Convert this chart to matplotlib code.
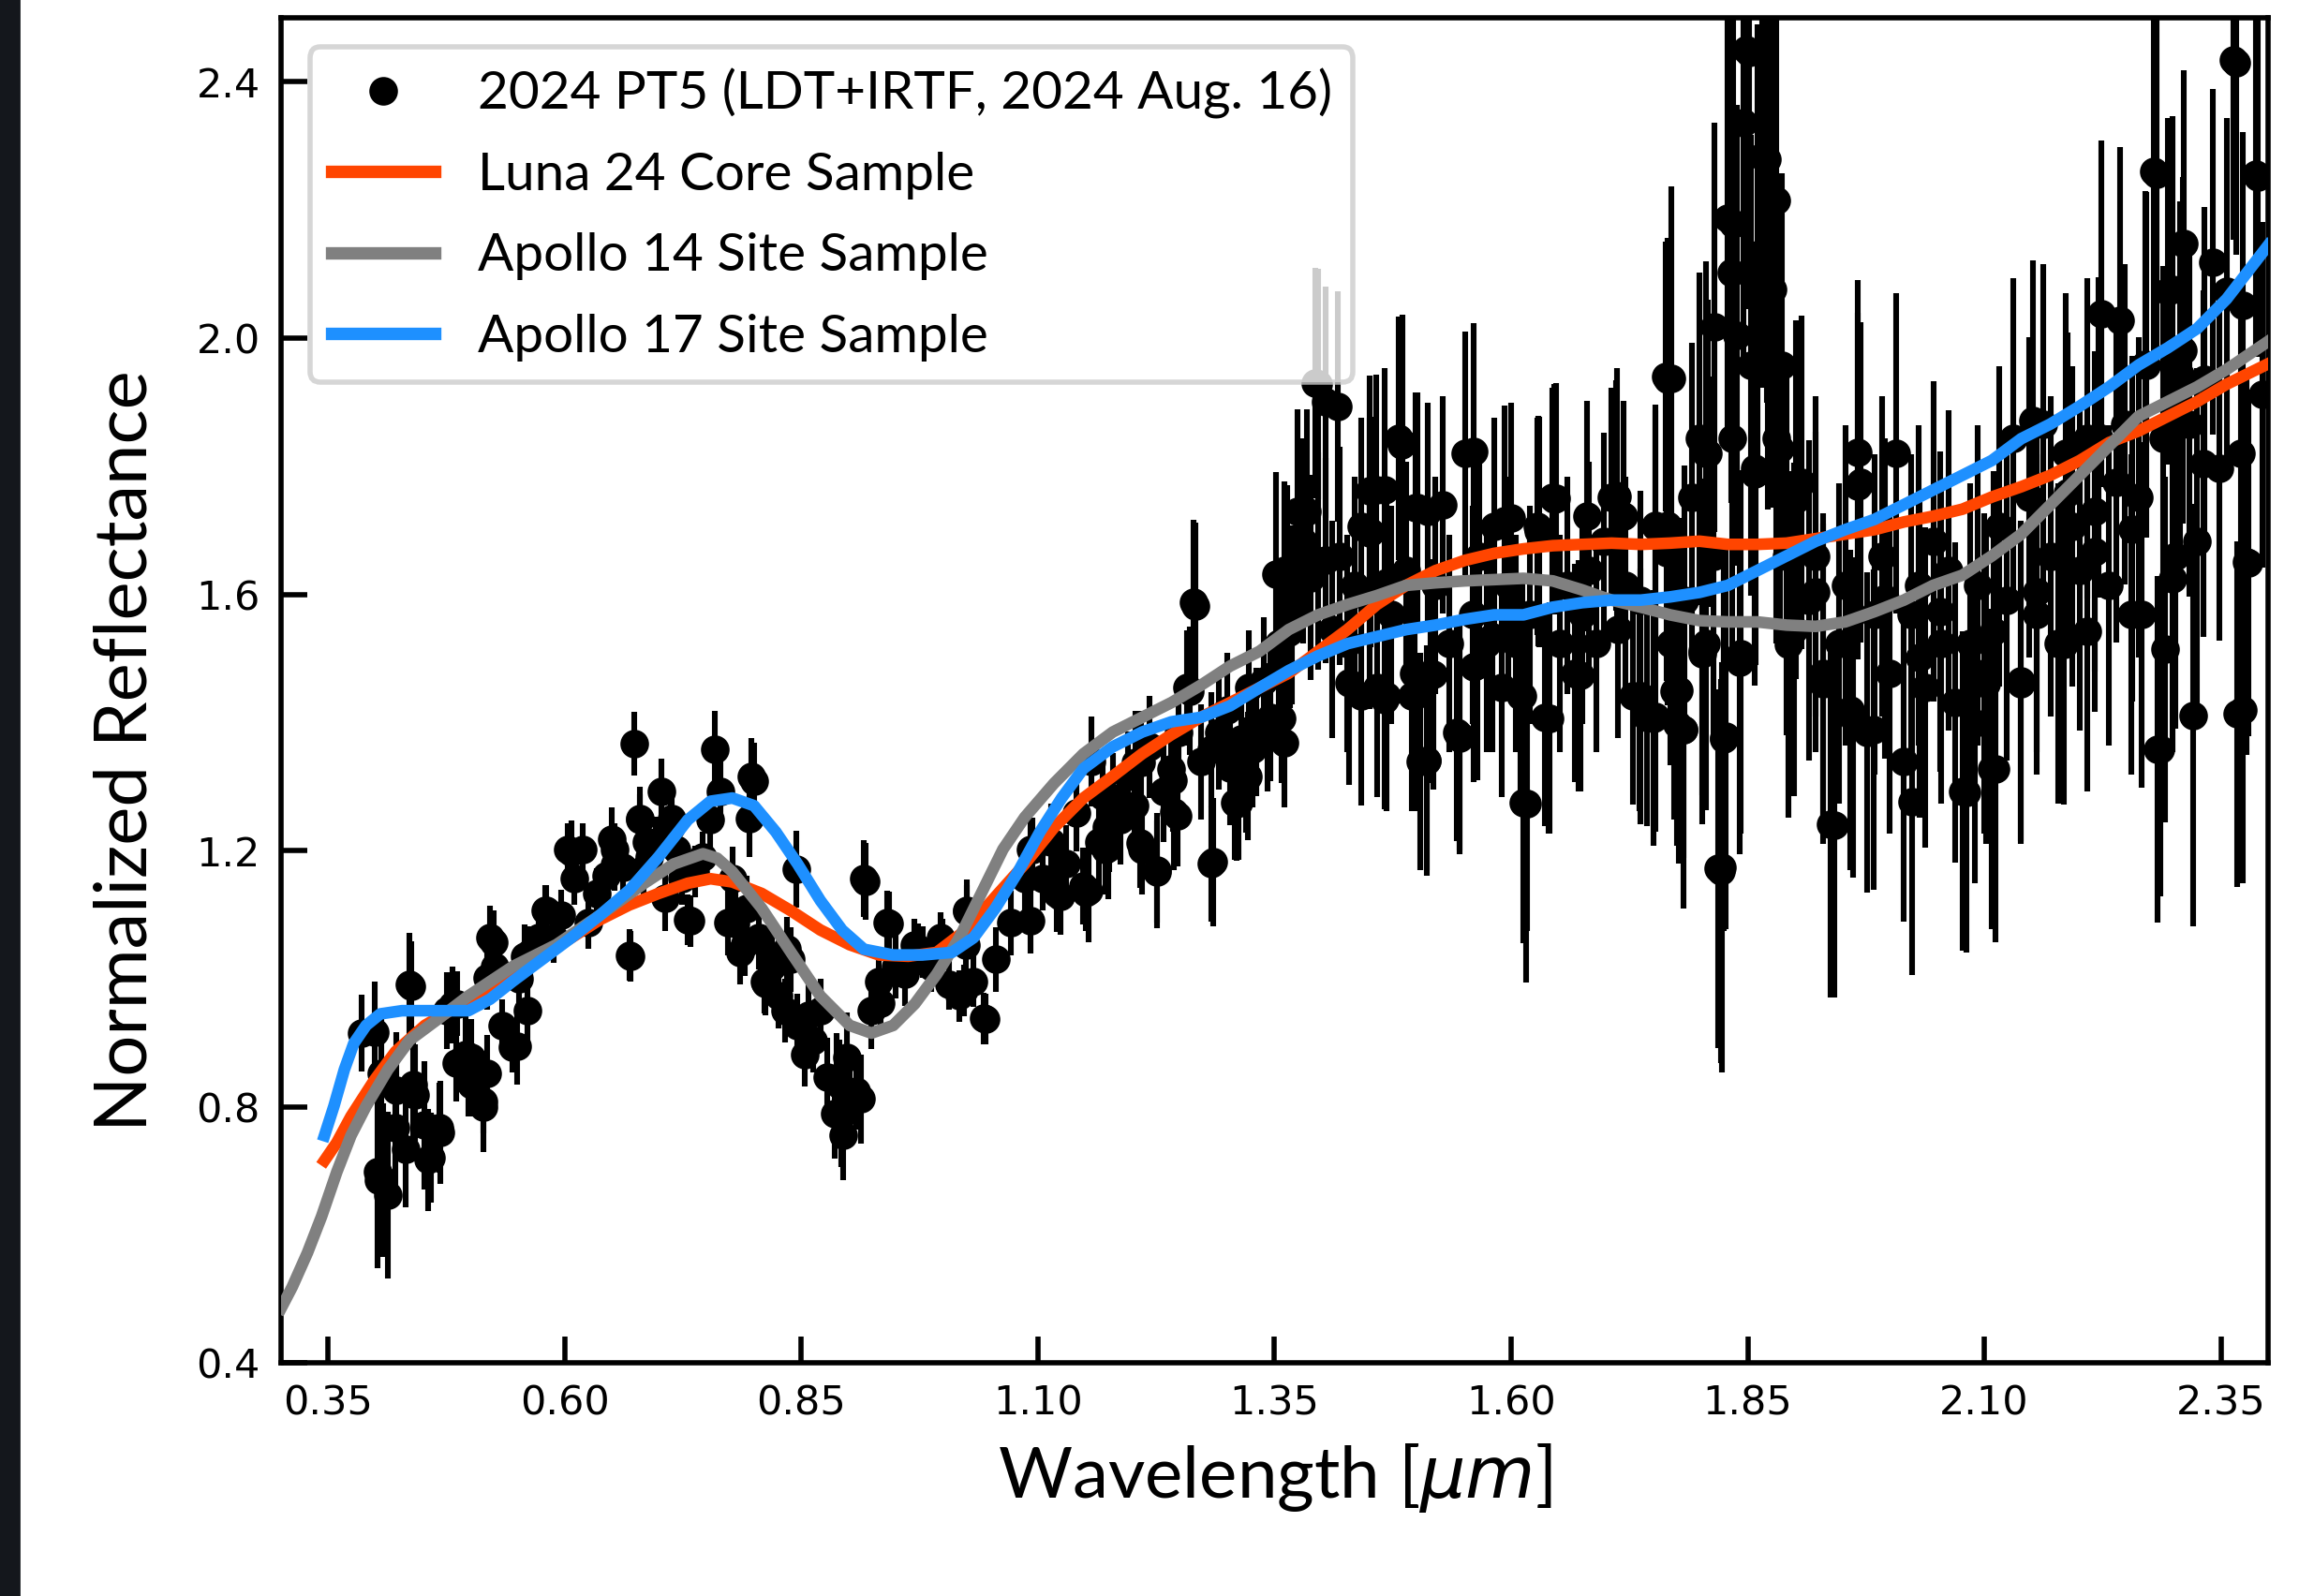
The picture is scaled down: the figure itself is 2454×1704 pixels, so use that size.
import numpy as np
import matplotlib.pyplot as plt
from matplotlib.patches import Rectangle

# visible spectrum (LDT)
wl_vis = [0.385, 0.402, 0.408, 0.421, 0.436, 0.440, 0.452, 0.459, 0.467, 0.475,
          0.486, 0.495, 0.501, 0.514, 0.521, 0.526, 0.534, 0.545, 0.552, 0.563,
          0.572, 0.579, 0.588, 0.596, 0.603, 0.610, 0.619, 0.625, 0.634, 0.644,
          0.653, 0.661, 0.668, 0.673, 0.679, 0.689, 0.696, 0.702, 0.712, 0.718,
          0.724, 0.730, 0.738, 0.746, 0.754, 0.758, 0.764, 0.772, 0.777, 0.785,
          0.792, 0.797, 0.805, 0.811, 0.819, 0.826, 0.833, 0.839, 0.846, 0.854,
          0.862, 0.870, 0.877, 0.885, 0.890, 0.894, 0.901, 0.908, 0.916, 0.924,
          0.932, 0.941, 0.950, 0.959, 0.969, 0.978, 0.987, 0.997, 1.006, 1.017,
          1.024, 1.032, 1.043,
          0.679, 0.713, 0.686, 0.607, 0.650, 0.683, 0.653, 0.580, 0.525, 0.733,
          0.669, 0.706, 0.518, 0.558, 0.550, 0.560, 0.481, 0.438, 0.399, 0.406,
          0.501, 0.485, 0.514, 0.468, 0.456, 0.432, 0.403, 0.413, 0.518, 0.498,
          0.442, 0.422, 0.800, 0.795, 0.780, 0.790, 0.812, 0.845, 0.918, 0.943,
          0.857, 0.887, 0.892, 0.913, 0.898, 0.934, 0.973, 0.999, 1.025, 1.045,
          1.022, 0.818, 0.835]
refl_vis = [0.915, 0.698, 0.686, 0.767, 0.991, 0.835, 0.771, 0.721, 0.767, 0.950,
            0.961, 0.881, 0.835, 0.808, 1.064, 1.019, 0.927, 0.893, 1.000, 1.041,
            1.064, 1.106, 1.064, 1.099, 1.202, 1.156, 1.202, 1.087, 1.133, 1.161,
            1.202, 1.174, 1.037, 1.367, 1.248, 1.190, 1.213, 1.293, 1.236, 1.202,
            1.156, 1.092, 1.167, 1.190, 1.248, 1.358, 1.293, 1.087, 1.156, 1.041,
            1.110, 1.316, 1.064, 0.996, 1.019, 0.973, 0.950, 1.030, 0.927, 0.881,
            0.904, 0.950, 0.847, 0.789, 0.835, 0.755, 0.812, 0.824, 1.156, 0.950,
            0.996, 1.087, 1.019, 1.007, 1.053, 1.041, 1.019, 1.064, 0.991, 0.973,
            1.053, 0.996, 0.938,
            1.250, 1.250, 1.213, 1.197, 1.217, 1.171, 1.178, 1.106, 1.057, 1.090,
            1.035, 1.125, 1.001, 1.035, 0.894, 0.950, 0.959, 0.988, 0.916, 0.852,
            0.877, 0.868, 0.799, 0.760, 0.717, 0.733, 0.685, 0.662, 0.852, 0.845,
            0.818, 0.826, 1.308, 1.250, 1.086, 1.054, 0.993, 1.171, 1.152, 1.086,
            0.943, 0.845, 0.786, 0.812, 0.877, 0.962, 1.046, 1.054, 1.106, 0.937,
            0.982, 1.027, 1.046]
err_vis = [0.06, 0.15, 0.12, 0.10, 0.08, 0.09, 0.10, 0.07, 0.07, 0.06,
           0.05, 0.06, 0.05, 0.05, 0.05, 0.05, 0.04, 0.04, 0.04, 0.04,
           0.04, 0.04, 0.04, 0.04, 0.04, 0.04, 0.04, 0.04, 0.04, 0.04,
           0.04, 0.04, 0.04, 0.05, 0.04, 0.04, 0.04, 0.05, 0.04, 0.04,
           0.04, 0.04, 0.04, 0.04, 0.05, 0.06, 0.05, 0.05, 0.05, 0.05,
           0.05, 0.06, 0.05, 0.05, 0.05, 0.05, 0.05, 0.05, 0.05, 0.05,
           0.05, 0.05, 0.06, 0.07, 0.07, 0.07, 0.07, 0.06, 0.06, 0.06,
           0.05, 0.05, 0.05, 0.05, 0.04, 0.04, 0.04, 0.04, 0.04, 0.04,
           0.04, 0.04, 0.04,
           0.05, 0.05, 0.04, 0.05, 0.05, 0.05, 0.04, 0.04, 0.05, 0.04,
           0.04, 0.05, 0.05, 0.05, 0.06, 0.05, 0.06, 0.07, 0.08, 0.10,
           0.06, 0.06, 0.07, 0.08, 0.08, 0.09, 0.12, 0.13, 0.06, 0.06,
           0.08, 0.09, 0.06, 0.06, 0.05, 0.05, 0.05, 0.06, 0.06, 0.05,
           0.06, 0.07, 0.08, 0.07, 0.07, 0.05, 0.04, 0.04, 0.04, 0.04,
           0.04, 0.05, 0.05]

# near-infrared spectrum (IRTF)
wl_ir = [1.055, 1.071, 1.086, 1.094, 1.105, 1.114, 1.120, 1.130, 1.141, 1.148,
         1.156, 1.164, 1.172, 1.179, 1.187, 1.195, 1.202, 1.210, 1.218, 1.226,
         1.233, 1.241, 1.249, 1.257, 1.264, 1.272, 1.283, 1.291, 1.300, 1.308,
         1.315, 1.323, 1.331, 1.339, 1.346, 1.354, 1.360, 1.368, 1.374, 1.380,
         1.388, 1.393, 1.404, 1.411, 1.419, 1.427, 1.435, 1.442, 1.450, 1.458,
         1.466, 1.473, 1.481, 1.489, 1.497, 1.504, 1.512, 1.520, 1.528, 1.535,
         1.543, 1.551, 1.559, 1.566, 1.574, 1.582, 1.590, 1.597, 1.605, 1.613,
         1.620, 1.628, 1.636, 1.644, 1.651, 1.659, 1.667, 1.675, 1.682, 1.690,
         1.698, 1.706, 1.713, 1.721, 1.729, 1.737, 1.744, 1.752, 1.763, 1.768,
         1.775, 1.783, 1.791, 1.799, 1.806, 1.814, 1.819, 1.825, 1.829, 1.834,
         1.839, 1.845, 1.848, 1.853, 1.857, 1.860, 1.865, 1.871, 1.876, 1.880,
         1.886, 1.891, 1.899, 1.907, 1.915, 1.922, 1.930, 1.938, 1.946, 1.953,
         1.961, 1.969, 1.976, 1.984, 1.992, 2.000, 2.007, 2.015, 2.023, 2.031,
         2.038, 2.046, 2.054, 2.062, 2.069, 2.077, 2.085, 2.093, 2.100, 2.108,
         2.116, 2.124, 2.131, 2.139, 2.147, 2.155, 2.162, 2.170, 2.178, 2.186,
         2.193, 2.201, 2.209, 2.217, 2.224, 2.232, 2.240, 2.248, 2.255, 2.263,
         2.271, 2.279, 2.283, 2.289, 2.294, 2.302, 2.310, 2.317, 2.325, 2.333,
         2.341, 2.348, 2.356, 2.363, 2.367, 2.371, 2.379, 2.387, 2.394,
         1.266, 1.260, 1.285, 1.226, 1.153, 1.310, 1.351, 1.363, 1.384, 1.396,
         1.417, 1.396, 1.457, 1.451, 1.484, 1.499, 1.511, 1.515, 1.560, 1.546,
         1.564, 1.630, 1.616, 1.647, 1.641, 1.612, 1.712, 1.765, 1.737, 1.750,
         1.671, 1.764, 1.593, 1.495, 1.442, 1.466, 1.343, 1.322, 1.244, 1.203,
         1.174, 1.851, 1.870, 1.880, 1.835, 1.833, 1.876, 1.815, 1.769, 1.806,
         1.884, 1.858, 1.966, 1.966, 1.901, 1.765, 2.243, 2.282, 2.366, 2.389,
         2.311, 2.299, 2.373, 2.270, 2.307, 2.332, 2.377, 2.299, 2.266, 2.291,
         2.321, 2.286, 2.256, 2.221, 2.188, 2.217, 2.184, 2.209, 2.139, 2.155,
         2.151, 2.110, 2.112, 2.081, 2.090, 2.102, 2.053, 2.024, 2.032, 1.983,
         1.995, 1.942, 1.958, 1.930, 1.922, 1.893, 1.823, 1.827, 1.843, 1.782,
         1.777, 1.802, 2.373,
         1.209, 1.312, 1.320, 1.357, 1.360, 1.363, 1.366, 1.248, 1.243, 1.171,
         1.175, 1.208, 1.151, 1.124, 1.092, 1.092, 1.025, 1.168, 1.283, 1.327,
         1.303,
         1.485, 1.450, 1.450, 1.501, 1.646, 1.600, 1.629, 1.711, 1.752, 1.808,
         1.857, 1.404, 1.468, 1.580, 1.560, 1.518, 1.468, 1.498, 1.429, 1.546,
         1.511, 1.610, 1.640, 1.673, 1.617, 1.736, 1.752, 1.772, 1.782, 1.802,
         1.825, 1.822, 1.842, 1.719, 1.680]
refl_ir = [1.030, 1.087, 1.156, 1.202, 1.156, 1.213, 1.133, 1.179, 1.259, 1.145,
           1.339, 1.213, 1.236, 1.282, 1.248, 1.316, 1.270, 1.202, 1.362, 1.167,
           1.293, 1.328, 1.385, 1.454, 1.587, 1.339, 1.179, 1.385, 1.419, 1.275,
           1.374, 1.454, 1.385, 1.465, 1.408, 1.523, 1.637, 1.568, 1.729, 1.683,
           1.626, 1.930, 1.900, 1.545, 1.660, 1.523, 1.614, 1.706, 1.591, 1.454,
           1.763, 1.568, 1.843, 1.637, 1.477, 1.339, 1.729, 1.614, 1.740, 1.523,
           1.385, 1.820, 1.568, 1.660, 1.523, 1.706, 1.454, 1.614, 1.523, 1.275,
           1.568, 1.706, 1.408, 1.752, 1.523, 1.614, 1.477, 1.568, 1.637, 1.523,
           1.683, 1.752, 1.545, 1.614, 1.442, 1.591, 1.408, 1.706, 1.940, 1.523,
           1.397, 1.591, 1.752, 1.843, 1.523, 1.660, 1.172, 1.374, 2.187, 1.843,
           2.004, 2.336, 2.450, 1.958, 1.797, 2.130, 2.283, 2.073, 2.210, 1.843,
           1.958, 1.660, 1.545, 1.775, 1.591, 1.660, 1.477, 1.241, 1.523, 1.614,
           1.408, 1.775, 1.385, 1.568, 1.660, 1.477, 1.820, 1.339, 1.568, 1.614,
           1.454, 1.683, 1.523, 1.637, 1.431, 1.293, 1.523, 1.614, 1.477, 1.328,
           1.706, 1.591, 1.843, 1.465, 1.752, 1.568, 1.866, 1.660, 1.523, 1.820,
           1.706, 1.637, 1.843, 1.729, 2.038, 1.614, 1.775, 1.866, 1.568, 1.752,
           1.958, 2.260, 1.358, 1.843, 2.073, 1.660, 1.981, 1.866, 1.683, 1.935,
           2.119, 1.797, 2.073, 2.434, 1.413, 1.820, 1.649, 2.256, 1.912,
           1.582, 1.449, 1.182, 1.169, 1.137, 1.274, 1.631, 1.539, 1.729, 1.928,
           1.893, 1.652, 1.763, 1.697, 1.833, 1.735, 1.340, 1.476, 1.823, 1.375,
           1.490, 1.697, 1.274, 1.750, 1.407, 1.441, 1.753, 1.936, 1.441, 1.407,
           1.473, 1.665, 1.715, 1.441, 1.441, 1.435, 1.393, 1.316, 1.260, 1.338,
           1.204, 2.446, 2.279, 2.215, 2.178, 2.102, 2.076, 2.017, 1.937, 1.820,
           1.827, 1.789, 1.821, 1.769, 1.748, 1.707, 2.028, 2.256, 2.430, 2.251,
           2.148, 2.076, 2.051, 1.959, 1.943, 1.804, 1.650, 1.624, 1.568, 1.514,
           1.411, 1.358, 1.702, 1.845, 1.759, 1.666, 1.522, 1.543, 1.461, 1.604,
           1.871, 1.543, 1.327, 1.291, 1.399, 1.461, 1.573, 1.276, 1.501, 1.389,
           1.593, 1.240, 1.419, 1.461, 1.604, 1.522, 1.174, 1.378, 1.507, 1.389,
           1.450, 1.511, 1.419,
           1.338, 1.275, 1.318, 1.406, 1.368, 1.631, 1.543, 1.255, 1.310, 1.202,
           1.236, 1.212, 1.134, 1.128, 1.202, 1.090, 1.105, 1.285, 1.358, 1.358,
           1.329,
           1.836, 1.762, 1.696, 1.735, 1.748, 1.719, 1.699, 1.754, 1.708, 1.820,
           1.788, 1.653, 1.618, 1.533, 1.487, 1.475, 1.441, 1.441, 1.462, 1.380,
           1.340, 1.441, 1.406, 1.473, 1.274, 1.441, 1.409, 1.449, 1.389, 1.507,
           1.375, 1.168, 1.494, 1.722, 1.722]
err_ir = [0.05, 0.05, 0.05, 0.05, 0.05, 0.06, 0.06, 0.06, 0.06, 0.06,
          0.07, 0.07, 0.07, 0.07, 0.07, 0.07, 0.07, 0.07, 0.08, 0.08,
          0.08, 0.08, 0.08, 0.09, 0.13, 0.09, 0.09, 0.09, 0.09, 0.09,
          0.09, 0.09, 0.10, 0.10, 0.10, 0.10, 0.14, 0.14, 0.16, 0.16,
          0.16, 0.18, 0.18, 0.17, 0.17, 0.17, 0.17, 0.17, 0.17, 0.17,
          0.19, 0.17, 0.19, 0.17, 0.17, 0.17, 0.17, 0.17, 0.17, 0.17,
          0.17, 0.19, 0.17, 0.17, 0.17, 0.17, 0.17, 0.17, 0.17, 0.22,
          0.17, 0.17, 0.17, 0.17, 0.17, 0.17, 0.17, 0.17, 0.17, 0.17,
          0.17, 0.17, 0.17, 0.17, 0.17, 0.17, 0.17, 0.19, 0.21, 0.19,
          0.19, 0.21, 0.24, 0.26, 0.26, 0.28, 0.28, 0.30, 0.34, 0.34,
          0.36, 0.38, 0.40, 0.36, 0.34, 0.36, 0.36, 0.34, 0.34, 0.32,
          0.30, 0.28, 0.26, 0.26, 0.25, 0.25, 0.25, 0.27, 0.25, 0.25,
          0.25, 0.25, 0.25, 0.25, 0.25, 0.25, 0.25, 0.25, 0.25, 0.25,
          0.25, 0.25, 0.25, 0.25, 0.25, 0.25, 0.25, 0.25, 0.25, 0.25,
          0.25, 0.25, 0.25, 0.25, 0.25, 0.25, 0.25, 0.25, 0.25, 0.25,
          0.25, 0.25, 0.25, 0.25, 0.27, 0.25, 0.25, 0.25, 0.25, 0.25,
          0.27, 0.28, 0.27, 0.27, 0.27, 0.27, 0.27, 0.27, 0.27, 0.27,
          0.27, 0.27, 0.27, 0.28, 0.27, 0.27, 0.27, 0.28, 0.27,
          0.13, 0.10, 0.10, 0.09, 0.08, 0.09, 0.16, 0.16, 0.16, 0.18,
          0.18, 0.17, 0.18, 0.18, 0.20, 0.18, 0.17, 0.17, 0.20, 0.18,
          0.18, 0.18, 0.28, 0.18, 0.18, 0.18, 0.20, 0.22, 0.20, 0.20,
          0.18, 0.20, 0.18, 0.18, 0.17, 0.17, 0.10, 0.10, 0.09, 0.08,
          0.08, 0.40, 0.38, 0.36, 0.36, 0.36, 0.34, 0.32, 0.30, 0.30,
          0.30, 0.30, 0.27, 0.27, 0.28, 0.28, 0.27, 0.28, 0.30, 0.28,
          0.27, 0.27, 0.27, 0.27, 0.27, 0.27, 0.30, 0.27, 0.27, 0.27,
          0.33, 0.23, 0.27, 0.25, 0.25, 0.25, 0.25, 0.25, 0.25, 0.25,
          0.25, 0.25, 0.27, 0.25, 0.25, 0.25, 0.25, 0.27, 0.25, 0.25,
          0.25, 0.27, 0.25, 0.25, 0.25, 0.27, 0.32, 0.30, 0.28, 0.28,
          0.27, 0.27, 0.27,
          0.08, 0.09, 0.09, 0.10, 0.10, 0.14, 0.12, 0.08, 0.08, 0.07,
          0.07, 0.07, 0.06, 0.06, 0.05, 0.05, 0.05, 0.07, 0.09, 0.09,
          0.09,
          0.20, 0.18, 0.18, 0.18, 0.18, 0.18, 0.18, 0.18, 0.18, 0.24,
          0.30, 0.16, 0.16, 0.18, 0.18, 0.18, 0.18, 0.18, 0.16, 0.18,
          0.18, 0.18, 0.18, 0.18, 0.20, 0.18, 0.18, 0.20, 0.20, 0.22,
          0.26, 0.30, 0.30, 0.18, 0.18]

# Apollo 14 site sample
wl_a14 = [0.300, 0.312, 0.328, 0.343, 0.359, 0.374, 0.390, 0.413, 0.436, 0.467,
          0.498, 0.545, 0.591, 0.637, 0.684, 0.715, 0.746, 0.761, 0.777, 0.808,
          0.839, 0.870, 0.901, 0.924, 0.947, 0.970, 0.993, 1.017, 1.040, 1.063,
          1.086, 1.117, 1.148, 1.179, 1.210, 1.241, 1.272, 1.303, 1.334, 1.365,
          1.396, 1.427, 1.458, 1.489, 1.520, 1.551, 1.582, 1.613, 1.644, 1.675,
          1.706, 1.737, 1.768, 1.799, 1.829, 1.860, 1.891, 1.922, 1.953, 1.984,
          2.015, 2.046, 2.077, 2.108, 2.139, 2.170, 2.201, 2.232, 2.263, 2.294,
          2.325, 2.356, 2.400]
refl_a14 = [0.485, 0.519, 0.572, 0.629, 0.698, 0.755, 0.801, 0.858, 0.904, 0.938,
            0.973, 1.019, 1.053, 1.099, 1.149, 1.179, 1.195, 1.188, 1.167, 1.110,
            1.041, 0.973, 0.927, 0.915, 0.927, 0.961, 1.007, 1.064, 1.133, 1.202,
            1.252, 1.305, 1.351, 1.385, 1.408, 1.431, 1.458, 1.488, 1.511, 1.545,
            1.568, 1.584, 1.598, 1.614, 1.618, 1.621, 1.623, 1.625, 1.621, 1.607,
            1.591, 1.580, 1.568, 1.559, 1.557, 1.557, 1.552, 1.550, 1.557, 1.573,
            1.591, 1.614, 1.630, 1.660, 1.694, 1.740, 1.786, 1.832, 1.878, 1.901,
            1.924, 1.951, 1.995]

# Luna 24 core sample
wl_l24 = [0.346, 0.359, 0.374, 0.398, 0.421, 0.452, 0.483, 0.514, 0.545, 0.576,
          0.607, 0.637, 0.668, 0.699, 0.730, 0.754, 0.777, 0.808, 0.839, 0.870,
          0.901, 0.932, 0.963, 0.993, 1.024, 1.055, 1.086, 1.117, 1.148, 1.179,
          1.210, 1.241, 1.272, 1.303, 1.334, 1.365, 1.396, 1.427, 1.458, 1.489,
          1.520, 1.551, 1.582, 1.613, 1.644, 1.675, 1.706, 1.737, 1.768, 1.799,
          1.829, 1.860, 1.891, 1.922, 1.953, 1.984, 2.015, 2.046, 2.077, 2.108,
          2.139, 2.170, 2.201, 2.232, 2.263, 2.294, 2.325, 2.356, 2.400]
refl_l24 = [0.716, 0.744, 0.785, 0.840, 0.886, 0.927, 0.954, 0.977, 1.007, 1.037,
            1.064, 1.092, 1.115, 1.133, 1.149, 1.156, 1.151, 1.133, 1.106, 1.076,
            1.053, 1.037, 1.035, 1.041, 1.076, 1.128, 1.179, 1.236, 1.282, 1.316,
            1.351, 1.381, 1.408, 1.431, 1.454, 1.477, 1.511, 1.545, 1.584, 1.614,
            1.637, 1.653, 1.664, 1.671, 1.676, 1.678, 1.680, 1.678, 1.680, 1.683,
            1.678, 1.678, 1.680, 1.687, 1.694, 1.701, 1.713, 1.722, 1.733, 1.752,
            1.768, 1.786, 1.809, 1.837, 1.855, 1.878, 1.901, 1.928, 1.960]

# Apollo 17 site sample
wl_a17 = [0.346, 0.356, 0.367, 0.377, 0.390, 0.405, 0.428, 0.467, 0.498, 0.521,
          0.545, 0.576, 0.607, 0.637, 0.668, 0.699, 0.730, 0.754, 0.777, 0.800,
          0.823, 0.846, 0.870, 0.893, 0.916, 0.947, 0.978, 1.009, 1.032, 1.055,
          1.079, 1.102, 1.125, 1.148, 1.179, 1.210, 1.241, 1.272, 1.303, 1.334,
          1.365, 1.396, 1.427, 1.458, 1.489, 1.520, 1.551, 1.582, 1.613, 1.644,
          1.675, 1.706, 1.737, 1.768, 1.799, 1.829, 1.860, 1.891, 1.922, 1.953,
          1.984, 2.015, 2.046, 2.077, 2.108, 2.139, 2.170, 2.201, 2.232, 2.263,
          2.294, 2.325, 2.356, 2.400]
refl_a17 = [0.755, 0.801, 0.858, 0.899, 0.927, 0.945, 0.950, 0.950, 0.950, 0.968,
            0.996, 1.030, 1.064, 1.099, 1.138, 1.190, 1.248, 1.277, 1.282, 1.270,
            1.229, 1.179, 1.122, 1.076, 1.046, 1.037, 1.037, 1.041, 1.064, 1.110,
            1.167, 1.229, 1.282, 1.328, 1.362, 1.385, 1.401, 1.408, 1.426, 1.454,
            1.481, 1.504, 1.523, 1.534, 1.545, 1.552, 1.561, 1.568, 1.568, 1.580,
            1.587, 1.591, 1.591, 1.596, 1.603, 1.614, 1.637, 1.660, 1.683, 1.701,
            1.717, 1.740, 1.763, 1.786, 1.809, 1.843, 1.866, 1.894, 1.924, 1.958,
            1.985, 2.015, 2.061, 2.145]

label_font = ["Lato", "DejaVu Sans"]

fig = plt.figure(figsize=(12.27, 8.52), dpi=200)
fig.patches.append(Rectangle((0, 0), 0.008, 1, transform=fig.transFigure,
                             color="#14171c", zorder=0))
ax = fig.add_axes([0.1222, 0.146, 0.8644, 0.8428])

wl_obs = wl_vis + wl_ir
refl_obs = refl_vis + refl_ir
err_obs = err_vis + err_ir

ax.errorbar(wl_obs, refl_obs, yerr=err_obs, fmt="none", ecolor="black",
            elinewidth=2.2, zorder=2)
ax.plot(wl_obs, refl_obs, "o", color="black", markersize=10, zorder=3,
        label="2024 PT5 (LDT+IRTF, 2024 Aug. 16)")
ax.plot(wl_l24, refl_l24, color="orangered", lw=4.5, zorder=4, label="Luna 24 Core Sample")
ax.plot(wl_a14, refl_a14, color="gray", lw=4.5, zorder=4, label="Apollo 14 Site Sample")
ax.plot(wl_a17, refl_a17, color="dodgerblue", lw=4.5, zorder=5, label="Apollo 17 Site Sample")

ax.set_xlim(0.30, 2.40)
ax.set_ylim(0.4, 2.5)
ax.set_xticks([0.35, 0.60, 0.85, 1.10, 1.35, 1.60, 1.85, 2.10, 2.35])
ax.set_xticklabels(["0.35", "0.60", "0.85", "1.10", "1.35", "1.60", "1.85", "2.10", "2.35"])
ax.set_yticks([0.4, 0.8, 1.2, 1.6, 2.0, 2.4])
ax.tick_params(direction="in", length=10, width=2, labelsize=15.5, pad=8)
for sp in ax.spines.values():
    sp.set_linewidth(2)

ax.set_xlabel(r"Wavelength [$\mu m$]", family=label_font, fontsize=27.5, labelpad=7)
ax.set_ylabel("Normalized Reflectance", family=label_font, fontsize=28)
ax.yaxis.set_label_coords(-0.061, 0.455)

leg = ax.legend(loc="upper left", prop={"family": label_font, "size": 20.4},
                handlelength=1.95, labelspacing=0.62, framealpha=0.8,
                borderaxespad=0.55, handletextpad=0.8)
leg.get_frame().set_linewidth(2)
for h in leg.get_lines():
    h.set_linewidth(4.8)

fig.savefig("out.png", dpi=200)
